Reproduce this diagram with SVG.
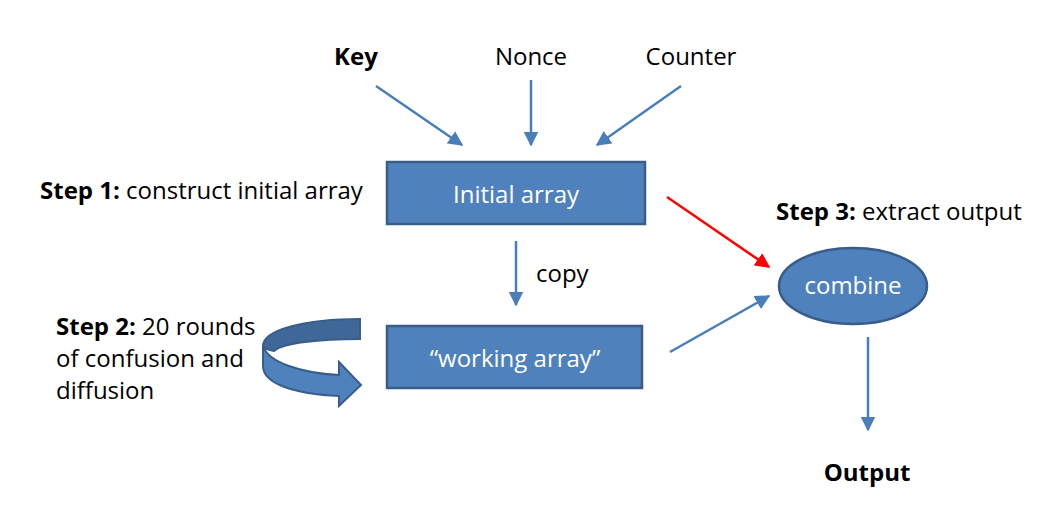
<svg xmlns="http://www.w3.org/2000/svg" width="1063" height="516" viewBox="0 0 1063 516">
<defs>
<style>
text{font-family:"Open Sans","Liberation Sans",sans-serif;font-size:24px;fill:#000}
.b{font-weight:bold}
.w{fill:#fff}
.node{fill:#4F81BD;stroke:#385D8A;stroke-width:2.5}
.c{stroke:#4A7EBB;stroke-width:2.5;fill:none;marker-end:url(#ab)}
.r{stroke:#FF0000;stroke-width:2.5;fill:none;marker-end:url(#ar)}
</style>
<marker id="ab" viewBox="0 0 10 10" refX="9" refY="5" markerWidth="6" markerHeight="6" orient="auto" markerUnits="strokeWidth"><path d="M0,0 L10,5 L0,10 Z" fill="#4A7EBB"/></marker>
<marker id="ar" viewBox="0 0 10 10" refX="9" refY="5" markerWidth="6" markerHeight="6" orient="auto" markerUnits="strokeWidth"><path d="M0,0 L10,5 L0,10 Z" fill="#FF0000"/></marker>
</defs>
<rect width="1063" height="516" fill="#fff"/>
<g id="connectors">
<line class="c" x1="376" y1="86" x2="462" y2="145"/>
<line class="c" x1="531" y1="80" x2="531" y2="145"/>
<line class="c" x1="681" y1="86" x2="597" y2="145"/>
<line class="c" x1="516" y1="241" x2="516" y2="305"/>
<line class="r" x1="667" y1="197" x2="769" y2="267"/>
<line class="c" x1="670" y1="352" x2="769" y2="296"/>
<line class="c" x1="868" y1="337" x2="868" y2="430"/>
</g>
<g id="key"><text class="b" x="356" y="65" text-anchor="middle">Key</text></g>
<g id="nonce"><text x="531" y="65" text-anchor="middle">Nonce</text></g>
<g id="counter"><text x="691" y="65" text-anchor="middle">Counter</text></g>
<g id="step1"><text x="40" y="199"><tspan class="b">Step 1:</tspan> construct initial array</text></g>
<g id="initial"><rect class="node" x="387" y="162" width="258" height="62"/><text class="w" x="516" y="203" text-anchor="middle">Initial array</text></g>
<g id="copy"><text x="536" y="282">copy</text></g>
<g id="step3"><text x="776" y="220"><tspan class="b">Step 3:</tspan> extract output</text></g>
<g id="combine"><ellipse class="node" cx="853" cy="286" rx="74" ry="38"/><text class="w" x="853" y="294" text-anchor="middle">combine</text></g>
<g id="working"><rect class="node" x="387" y="326" width="255" height="62"/><text class="w" x="515" y="367" text-anchor="middle">“working array”</text></g>
<g id="step2"><text x="56" y="335"><tspan class="b">Step 2:</tspan> 20 rounds</text><text x="56" y="367">of confusion and</text><text x="56" y="399">diffusion</text></g>
<g id="loop">
<path d="M360,319 L360,339 C320,339 282,343 274,351 C268,350 263,348 263,346 C263,330 305,319 360,319 Z" fill="#3F6899" stroke="#385D8A" stroke-width="2"/>
<path d="M263,346 C268,362 300,373 339,375 L339,362 L361,385 L339,406 L339,396 C295,394 263,384 263,366 Z" fill="#4F81BD" stroke="#385D8A" stroke-width="2"/>
</g>
<g id="output"><text class="b" x="867" y="481" text-anchor="middle">Output</text></g>
</svg>
